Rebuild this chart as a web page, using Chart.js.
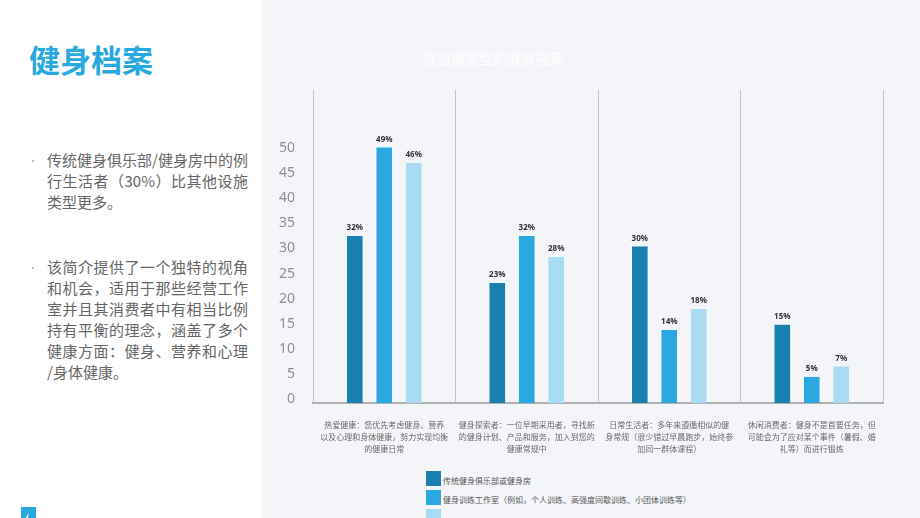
<!DOCTYPE html>
<html lang="zh">
<head>
  <meta charset="UTF-8">
  <title>健身档案</title>
  <script src="https://cdn.jsdelivr.net/npm/chart.js"></script>
  <style>
    html, body { margin: 0; padding: 0; }
    body { width: 920px; height: 518px; overflow: hidden; position: relative; background: #fff;
           font-family: "Noto Sans CJK SC", "Noto Sans", sans-serif; }
    .right-panel { position: absolute; left: 262px; top: 0; width: 658px; height: 518px; background: #f4f5f9; }
    .heading { position: absolute; left: 29px; top: 43px; font-size: 31px; line-height: 32px; font-weight: bold; color: #2aa9e0; }
    .para { position: absolute; left: 47px; width: 201px; font-size: 15px; line-height: 21px; color: #666; }
    .para div { white-space: nowrap; }
    .para div.full { text-align: justify; text-align-last: justify; }
    .dot { position: absolute; left: 32px; width: 2px; height: 2px; border-radius: 1px; background: #9ab; }
    .chart-title { position: absolute; left: 423px; top: 48px; font-size: 14px; color: #fff; }
    .chart-box { position: absolute; left: 262px; top: 0; width: 658px; height: 465px; }
    .legend { position: absolute; left: 426px; top: 471px; font-size: 8px; color: #555; }
    .legend .row { height: 19px; display: flex; align-items: flex-start; }
    .legend .sw { width: 15px; height: 15px; margin-right: 2px; flex: none; }
    .legend .lb { line-height: 15px; padding-top: 2px; white-space: nowrap; }
    .legend .row.last .lb { padding-top: 12px; }
    .logo { position: absolute; left: 21px; top: 507px; width: 15px; height: 15px; background: #29a9e0; }
  </style>
</head>
<body>
  <div class="right-panel"></div>

  <!-- left text -->
  <div class="heading">健身档案</div>
  <div class="dot" style="top:160px"></div>
  <div class="para" style="top:149px">
    <div class="full">传统健身俱乐部/健身房中的例</div>
    <div class="full">行生活者（30%）比其他设施</div>
    <div>类型更多。</div>
  </div>
  <div class="dot" style="top:267px"></div>
  <div class="para" style="top:256px">
    <div class="full">该简介提供了一个独特的视角</div>
    <div class="full">和机会，适用于那些经营工作</div>
    <div class="full">室并且其消费者中有相当比例</div>
    <div class="full">持有平衡的理念，涵盖了多个</div>
    <div class="full">健康方面：健身、营养和心理</div>
    <div>/身体健康。</div>
  </div>
  <div class="logo">
    <svg width="15" height="15" viewBox="0 0 15 15">
      <path d="M8 2 C5 5 4 8 5 11 C6 13 9 13 10 11 C9 12 7 12 6.5 10 C6 8 7 5 8 2 Z" fill="#fff"/>
    </svg>
  </div>

  <div class="chart-title">按设施类型的健身档案</div>
  <div class="chart-box"><canvas id="fitChart"></canvas></div>
  <div class="legend" id="legend"></div>

  <script>
    // categories (wrapped lines of the x labels)
    const categories = [
      ['热爱健康：您优先考虑健身、营养', '以及心理和身体健康，努力实现均衡', '的健康日常'],
      ['健身探索者：一位早期采用者，寻找新', '的健身计划、产品和服务，加入到您的', '健康常规中'],
      ['日常生活者：多年来遵循相似的健', '身常规（很少错过早晨跑步，始终参', '加同一群体课程）'],
      ['休闲消费者：健身不是首要任务，但', '可能会为了应对某个事件（暑假、婚', '礼等）而进行锻炼']
    ];
    const seriesNames = [
      '传统健身俱乐部或健身房',
      '健身训练工作室（例如，个人训练、高强度间歇训练、小团体训练等）',
      '精品健身工作室'
    ];
    const clubValues = [32, 23, 30, 15];
    const studioValues = [49, 32, 14, 5];
    const boutiqueValues = [46, 28, 18, 7];
    const yTicks = [0, 5, 10, 15, 20, 25, 30, 35, 40, 45, 50];

    const colors = ['#1980b0', '#2ba8e0', '#a9dcf2'];
    const allValues = [clubValues, studioValues, boutiqueValues];

    // percent labels above each bar
    const valueLabels = {
      id: 'valueLabels',
      afterDatasetsDraw(chart) {
        const ctx = chart.ctx;
        ctx.save();
        ctx.font = 'bold 8px "Noto Sans", sans-serif';
        ctx.fillStyle = '#333';
        ctx.textAlign = 'center';
        ctx.textBaseline = 'bottom';
        chart.data.datasets.forEach((ds, i) => {
          chart.getDatasetMeta(i).data.forEach((bar, j) => {
            ctx.fillText(ds.data[j] + '%', bar.x, bar.y - 4);
          });
        });
        ctx.restore();
      }
    };

    const ctx = document.getElementById('fitChart').getContext('2d');
    new Chart(ctx, {
      type: 'bar',
      data: {
        labels: categories,
        datasets: allValues.map((vals, i) => ({
          label: seriesNames[i],
          data: vals,
          backgroundColor: colors[i],
          borderWidth: 0,
          categoryPercentage: 0.62,
          barPercentage: 0.53,
          yAxisID: 'y'
        }))
      },
      options: {
        responsive: true,
        maintainAspectRatio: false,
        animation: false,
        layout: { padding: { top: 90, left: 11, right: 37, bottom: 2 } },
        plugins: {
          legend: { display: false },
          tooltip: { enabled: false }
        },
        scales: {
          x: {
            grid: { color: '#c4c4c4', lineWidth: 1, drawTicks: false },
            border: { color: '#b0b0b0', width: 2 },
            ticks: {
              autoSkip: false,
              maxRotation: 0,
              padding: 16,
              color: '#6a6a6a',
              font: { family: '"Noto Sans CJK SC", sans-serif', size: 8, lineHeight: 1.5 }
            },
            afterFit(axis) { axis.height = 60; }
          },
          // bars
          y: {
            display: false,
            min: 0,
            max: 60
          },
          // the printed tick labels sit on their own slightly different scale
          yLabels: {
            position: 'left',
            min: -0.7,
            max: 61.5,
            grid: { display: false },
            border: { display: false },
            afterBuildTicks(axis) { axis.ticks = yTicks.map(v => ({ value: v })); },
            afterFit(axis) { axis.width = 40; },
            ticks: {
              padding: 10,
              color: '#8f8f8f',
              font: { family: '"Noto Sans", sans-serif', size: 14 }
            }
          }
        }
      },
      plugins: [valueLabels]
    });

    // vertical legend
    const legend = document.getElementById('legend');
    seriesNames.forEach((name, i) => {
      const row = document.createElement('div');
      row.className = 'row' + (i === seriesNames.length - 1 ? ' last' : '');
      row.innerHTML = '<span class="sw" style="background:' + colors[i] + '"></span><span class="lb">' + name + '</span>';
      legend.appendChild(row);
    });
  </script>
</body>
</html>
